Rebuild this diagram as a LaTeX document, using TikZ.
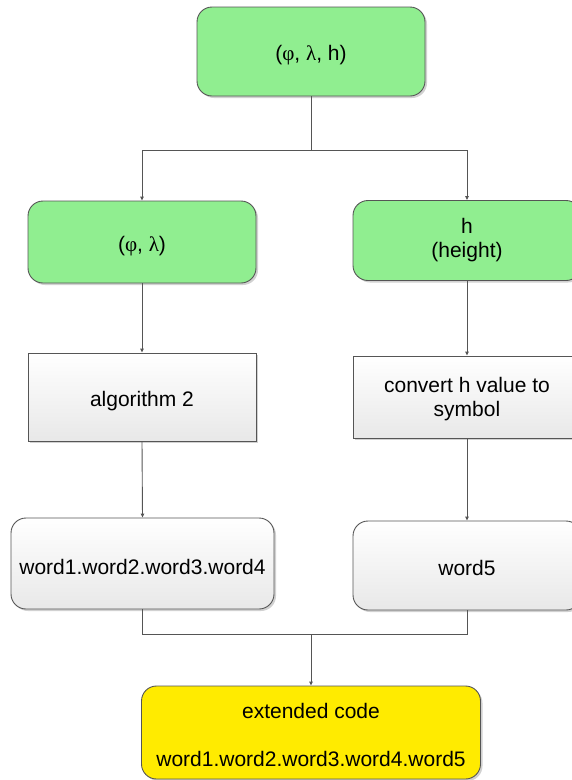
\documentclass[tikz,border=0pt]{standalone}
\usepackage{fontspec}
\setmainfont{Liberation Sans}
\newfontfamily\gk{Liberation Serif}
\usetikzlibrary{arrows.meta,shadows}
\definecolor{boxline}{RGB}{85,85,85}
\definecolor{lgreen}{RGB}{144,238,144}
\definecolor{yel}{RGB}{255,235,0}
\newcommand{\lowstrut}[1]{\rule{0pt}{#1}}
\begin{document}
\begin{tikzpicture}[x=1pt,y=-1pt,
  base/.style={draw=boxline, line width=0.9pt, align=center, inner sep=0pt,
    font=\fontsize{21}{24}\selectfont,
    drop shadow={shadow xshift=2pt, shadow yshift=-2pt, fill=black, opacity=0.18}},
  greenbox/.style={base, fill=lgreen, rounded corners=15pt},
  greybox/.style={base, top color=white, bottom color=gray!18},
  roundgrey/.style={greybox, rounded corners=15pt},
  yelbox/.style={base, fill=yel, rounded corners=15pt},
  conn/.style={draw=boxline, line width=0.9pt},
  arr/.style={conn, -{Triangle[length=4pt,width=3.5pt]}}]
\useasboundingbox (0,0) rectangle (572,780);
\node[greenbox, minimum width=228pt, minimum height=89pt] (top) at (311,51.5) {\lowstrut{23pt}({\gk φ}, {\gk λ}, h)};
\node[greenbox, minimum width=228pt, minimum height=82pt] (lg) at (142,242) {\lowstrut{23pt}({\gk φ}, {\gk λ})};
\node[greenbox, minimum width=228pt, minimum height=80pt] (rg) at (467,240.5) {h\\(height)};
\node[greybox, minimum width=228pt, minimum height=88pt] (alg) at (142,397) {\lowstrut{23pt}algorithm 2};
\node[greybox, minimum width=228pt, minimum height=82pt] (conv) at (467,397) {\lowstrut{20pt}convert h value to\\symbol};
\node[roundgrey, minimum width=263pt, minimum height=91pt] (w14) at (142.5,563.5) {\lowstrut{23pt}word1.word2.word3.word4};
\node[roundgrey, minimum width=228pt, minimum height=89pt] (w5) at (467,565.5) {\lowstrut{21pt}word5};
\node[yelbox, minimum width=339pt, minimum height=93pt] (ext) at (311,732.5) {\lowstrut{21pt}extended code\\[24pt]word1.word2.word3.word4.word5};
\coordinate (split) at (311,150);
\coordinate (merge) at (311,634);
\draw[conn] (top.south) -- (split);
\draw[arr] (split) -| (lg.north);
\draw[arr] (split) -| (rg.north);
\draw[arr] (lg.south) -- (alg.north);
\draw[arr] (rg.south) -- (conv.north);
\draw[arr] (alg.south) -- (w14.north);
\draw[arr] (conv.south) -- (w5.north);
\draw[conn] (w14.south) |- (merge);
\draw[conn] (w5.south) |- (merge);
\draw[arr] (merge) -- (ext.north);
\end{tikzpicture}
\end{document}
